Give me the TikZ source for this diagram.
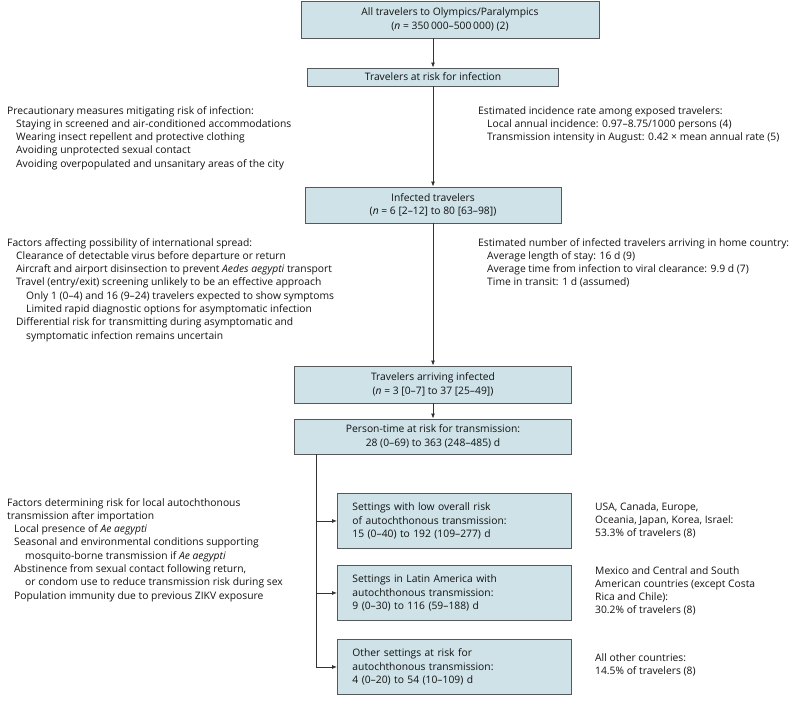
\documentclass[tikz,border=0pt]{standalone}
\usepackage{fontspec}
\setmainfont{Open Sans}
\usepackage{xcolor}
\usetikzlibrary{arrows.meta}
\definecolor{boxfill}{HTML}{CEE2E8}
\definecolor{boxline}{HTML}{55595C}
\definecolor{linkcol}{HTML}{333333}
\definecolor{textcol}{HTML}{111111}

\begin{document}
\begin{tikzpicture}[
    x=1pt, y=-1pt,
    >={Latex[length=5pt, width=4pt]},
    font=\fontsize{10.3}{13.3}\selectfont,
    every node/.append style={text=textcol},
    box/.style={draw=boxline, fill=boxfill, line width=0.9pt, inner sep=0pt, align=center},
    setting/.style={box, anchor=north west, align=left, inner xsep=15pt, text width=204pt, minimum height=55pt},
    note/.style={anchor=north west, inner sep=0pt, align=left},
    link/.style={draw=linkcol, line width=0.8pt}
]
\useasboundingbox (0,0) rectangle (800,702);

% Nodes :
\node[box, minimum width=298pt, minimum height=37pt] (all) at (450, 19.5)
    {All travelers to Olympics/Paralympics\\(\textit{n} = 350\,000–500\,000) (2)};
\node[box, minimum width=251pt, minimum height=18pt] (risk) at (433, 77)
    {Travelers at risk for infection};
\node[box, minimum width=256pt, minimum height=36pt] (infected) at (433, 205)
    {Infected travelers\\(\textit{n} = 6 [2–12] to 80 [63–98])};
\node[box, minimum width=277pt, minimum height=37pt] (arriving) at (433, 384.5)
    {Travelers arriving infected\\(\textit{n} = 3 [0–7] to 37 [25–49])};
\node[box, minimum width=277pt, minimum height=35pt] (persontime) at (433, 436.5)
    {Person-time at risk for transmission:\\28 (0–69) to 363 (248–485) d};

\node[setting] (low) at (337, 493)
    {Settings with low overall risk\\of autochthonous transmission:\\15 (0–40) to 192 (109–277) d};
\node[setting] (latin) at (337, 565)
    {Settings in Latin America with\\autochthonous transmission:\\9 (0–30) to 116 (59–188) d};
\node[setting] (other) at (337, 639)
    {Other settings at risk for\\autochthonous transmission:\\4 (0–20) to 54 (10–109) d};

% Notes :
\node[note] (precaution) at (7, 106)
    {Precautionary measures mitigating risk of infection:\\
     \hspace*{9pt}Staying in screened and air-conditioned accommodations\\
     \hspace*{9pt}Wearing insect repellent and protective clothing\\
     \hspace*{9pt}Avoiding unprotected sexual contact\\
     \hspace*{9pt}Avoiding overpopulated and unsanitary areas of the city};
\node[note] (incidence) at (478, 106)
    {Estimated incidence rate among exposed travelers:\\
     \hspace*{9pt}Local annual incidence: 0.97–8.75/1000 persons (4)\\
     \hspace*{9pt}Transmission intensity in August: 0.42 × mean annual rate (5)};
\node[note] (spread) at (7, 238)
    {Factors affecting possibility of international spread:\\
     \hspace*{9pt}Clearance of detectable virus before departure or return\\
     \hspace*{9pt}Aircraft and airport disinsection to prevent \textit{Aedes aegypti} transport\\
     \hspace*{9pt}Travel (entry/exit) screening unlikely to be an effective approach\\
     \hspace*{19pt}Only 1 (0–4) and 16 (9–24) travelers expected to show symptoms\\
     \hspace*{19pt}Limited rapid diagnostic options for asymptomatic infection\\
     \hspace*{9pt}Differential risk for transmitting during asymptomatic and\\
     \hspace*{19pt}symptomatic infection remains uncertain};
\node[note] (homecountry) at (478, 238)
    {Estimated number of infected travelers arriving in home country:\\
     \hspace*{9pt}Average length of stay: 16 d (9)\\
     \hspace*{9pt}Average time from infection to viral clearance: 9.9 d (7)\\
     \hspace*{9pt}Time in transit: 1 d (assumed)};
\node[note] (local) at (7, 498)
    {Factors determining risk for local autochthonous\\
     transmission after importation\\
     \hspace*{7pt}Local presence of \textit{Ae aegypti}\\
     \hspace*{7pt}Seasonal and environmental conditions supporting\\
     \hspace*{18pt}mosquito-borne transmission if \textit{Ae aegypti}\\
     \hspace*{7pt}Abstinence from sexual contact following return,\\
     \hspace*{18pt}or condom use to reduce transmission risk during sex\\
     \hspace*{7pt}Population immunity due to previous ZIKV exposure};
\node[note] (lowshare) at (595, 502)
    {USA, Canada, Europe,\\Oceania, Japan, Korea, Israel:\\53.3\% of travelers (8)};
\node[note] (latinshare) at (595, 566)
    {Mexico and Central and South\\American countries (except Costa\\Rica and Chile):\\30.2\% of travelers (8)};
\node[note] (othershare) at (595, 653)
    {All other countries:\\14.5\% of travelers (8)};

% Edges :
\draw[link, ->] (risk.north |- all.south) -- (risk.north);
\draw[link, ->] (risk) -- (infected);
\draw[link, ->] (infected) -- (arriving);
\draw[link, ->] (arriving) -- (persontime);

\coordinate (split) at (316, 454);
\draw[link, ->] (split) |- (other.west);
\draw[link, ->] (split |- low.west) -- (low.west);
\draw[link, ->] (split |- latin.west) -- (latin.west);

\end{tikzpicture}
\end{document}
